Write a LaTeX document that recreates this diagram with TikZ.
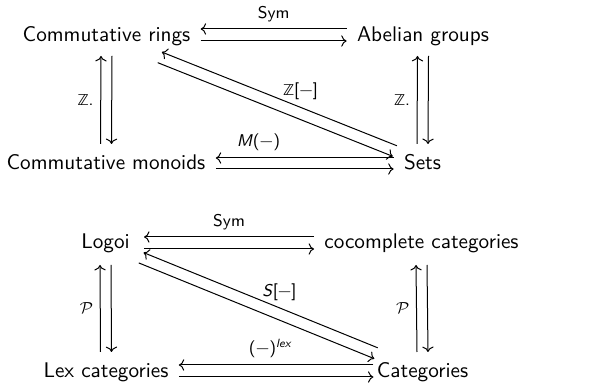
\documentclass[tikz,border=0pt]{standalone}
\usepackage{amsmath}
\usepackage{fontspec}
\newfontfamily\dsfont{DejaVu Sans}[Scale=0.88]
\usepackage{tikz}
\usetikzlibrary{arrows.meta, calc}
\renewcommand{\familydefault}{\sfdefault}

\begin{document}
\begin{tikzpicture}[
    x=0.5pt, y=-0.5pt, font=\fontsize{10.6}{13}\selectfont\sffamily,
    obj/.style={anchor=base, inner xsep=5pt, inner ysep=0pt},
    lbl/.style={font=\fontsize{8.5}{10}\selectfont\sffamily},
    >={Computer Modern Rightarrow}, arr/.style={->, line width=0.5pt},
  ]
    \useasboundingbox (0,0) rectangle (605,384);
    % rings, groups, monoids, sets
    \node[obj] (rings) at (106.5,42) {Commutative rings};
    \node[obj] (groups) at (423,42) {Abelian groups};
    \node[obj] (monoids) at (106,170) {Commutative monoids};
    \node[obj] (sets) at (422.5,170) {Sets};
    \draw[arr] ([yshift=6.5pt]groups.base west) -- node[lbl, above] (sym1) {Sym} ([yshift=6.5pt]rings.base east);
    \draw[arr] ([yshift=0.5pt]rings.base east) -- ([yshift=0.5pt]groups.base west);
    \draw[arr] ([xshift=-2.75pt, yshift=13pt]monoids.base) -- node[lbl, left] (zl1) {{\dsfont ℤ}.} ([xshift=-2.75pt, yshift=-7pt]rings.base);
    \draw[arr] ([xshift=2.75pt, yshift=-7pt]rings.base) -- ([xshift=2.75pt, yshift=13pt]monoids.base);
    \draw[arr] ([xshift=-2.75pt, yshift=13pt]sets.base) -- node[lbl, left] (zr1) {{\dsfont ℤ}.} ([xshift=-2.75pt, yshift=-7pt]groups.base);
    \draw[arr] ([xshift=2.75pt, yshift=-7pt]groups.base) -- ([xshift=2.75pt, yshift=13pt]sets.base);
    \draw[arr] ($(sets)!0.088!(rings)+(1.1pt,2.9pt)$) -- node[lbl, above, pos=0.41] (zpoly) {{\dsfont ℤ}[−]} ($(sets)!0.832!(rings)+(1.1pt,2.9pt)$);
    \draw[arr] ($(rings)!0.168!(sets)+(-0.95pt,-2.4pt)$) -- ($(rings)!0.912!(sets)+(-0.95pt,-2.4pt)$);
    \draw[arr] ([yshift=6pt]sets.base west) -- node[lbl, above, pos=0.76] (mon) {\textit{M}(−)} ([yshift=6pt]monoids.base east);
    \draw[arr] ([yshift=0.5pt]monoids.base east) -- ([yshift=0.5pt]sets.base west);

    % logoi, cocomplete, lex, categories
    \node[obj] (logoi) at (105.5,249) {Logoi};
    \node[obj] (cocomp) at (421.5,249) {cocomplete categories};
    \node[obj] (lex) at (106,378) {Lex categories};
    \node[obj] (cats) at (422.5,378) {Categories};
    \draw[arr] ([yshift=6pt]cocomp.base west) -- node[lbl, above] (sym2) {Sym} ([xshift=2pt, yshift=6pt]logoi.base east);
    \draw[arr] ([xshift=2pt]logoi.base east) -- (cocomp.base west);
    \draw[arr] ([xshift=-2.75pt, yshift=13pt]lex.base) -- node[lbl, left] (pl) {$\mathcal{P}$} ([xshift=-2.75pt, yshift=-8pt]logoi.base);
    \draw[arr] ([xshift=2.75pt, yshift=-8pt]logoi.base) -- ([xshift=2.75pt, yshift=13pt]lex.base);
    \draw[arr] ([xshift=-2.75pt, yshift=13pt]cats.base) -- node[lbl, left] (pr) {$\mathcal{P}$} ([xshift=-2.75pt, yshift=-8pt]cocomp.base);
    \draw[arr] ([xshift=2.75pt, yshift=-8pt]cocomp.base) -- ([xshift=2.75pt, yshift=13pt]cats.base);
    \draw[arr] ($(cats)!0.148!(logoi)+(1.1pt,2.9pt)$) -- node[lbl, above, pos=0.42] (spoly) {\textit{S}[−]} ($(cats)!0.887!(logoi)+(1.1pt,2.9pt)$);
    \draw[arr] ($(logoi)!0.111!(cats)+(-0.95pt,-2.4pt)$) -- ($(logoi)!0.854!(cats)+(-0.95pt,-2.4pt)$);
    \draw[arr] ([xshift=3.5pt, yshift=6.5pt]cats.base west) -- node[lbl, above, pos=0.53] (lexfree) {(−)\textsuperscript{\itshape lex}} ([yshift=6.5pt]lex.base east);
    \draw[arr] ([yshift=0.5pt]lex.base east) -- ([xshift=3.5pt, yshift=0.5pt]cats.base west);
  \end{tikzpicture}
\end{document}
